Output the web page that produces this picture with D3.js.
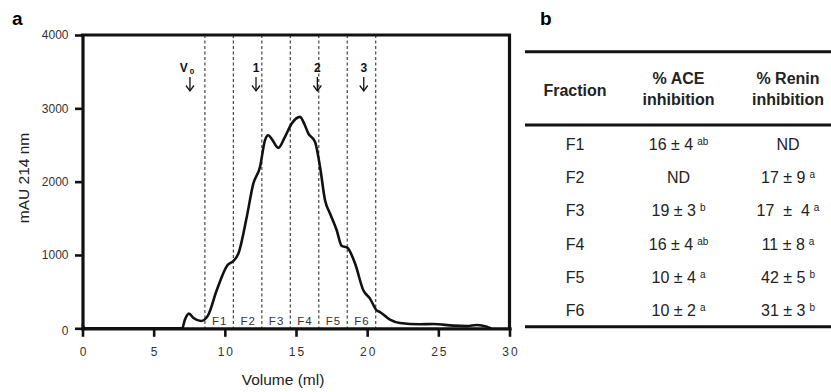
<!DOCTYPE html>
<html>
<head>
<meta charset="utf-8">
<script src="https://cdn.jsdelivr.net/npm/d3@7"></script>
<style>
  html, body { margin: 0; padding: 0; background: #fff; }
  svg { display: block; font-family: "Liberation Sans", Arial, Helvetica, sans-serif; }
</style>
</head>
<body>
<svg id="chart" width="831" height="392"></svg>
<script>
// ---- Data ----
const volumes = [0, 0.15, 7.0, 7.2, 7.48, 7.8, 8.33, 8.8, 9.43, 10.18, 10.6, 10.95, 11.54, 12.0, 12.47, 12.82, 13.06, 13.3, 13.76, 14.2, 14.7, 15.28, 15.6, 15.87, 16.34, 16.69, 17.04, 17.39, 17.86, 18.21, 18.6, 19.15, 19.73, 20.2, 20.67, 20.9, 21.6, 22.3, 23.7, 24.65, 26.06, 27.0, 27.7, 28.4, 28.7];
const absorbance = [50, 0, 0, 120, 200, 140, 100, 170, 518, 860, 918, 1019, 1518, 1973, 2200, 2564, 2633, 2580, 2460, 2600, 2792, 2883, 2780, 2656, 2542, 2200, 1746, 1565, 1337, 1123, 1100, 883, 518, 405, 245, 222, 118, 72, 55, 59, 36, 30, 45, 23, 0];
const xTicks = [0, 5, 10, 15, 20, 25, 30];
const yTicks = [0, 1000, 2000, 3000, 4000];
const fractionBounds = [8.6, 10.6, 12.6, 14.6, 16.6, 18.6, 20.6];
const fractionLabels = ["F1", "F2", "F3", "F4", "F5", "F6"];
const markerLabels = ["V", "1", "2", "3"];
const markerSubs = ["0", "", "", ""];
const markerVolumes = [7.55, 12.19, 16.5, 19.76];

const tableHeaders = [["Fraction"], ["% ACE", "inhibition"], ["% Renin", "inhibition"]];
const tableFractions = ["F1", "F2", "F3", "F4", "F5", "F6"];
const aceValues = ["16 ± 4", "ND", "19 ± 3", "16 ± 4", "10 ± 4", "10 ± 2"];
const aceSup = ["ab", "", "b", "ab", "a", "a"];
const reninValues = ["ND", "17 ± 9", "17  ±  4", "11 ± 8", "42 ± 5", "31 ± 3"];
const reninSup = ["", "a", "a", "a", "b", "b"];

// ---- Chart ----
const svg = d3.select("#chart");
const x = d3.scaleLinear().domain([0, 30]).range([82.5, 509.5]);
const y = d3.scaleLinear().domain([0, 4000]).range([328.3, 35]);

// panel letters
svg.append("text").attr("x", 12).attr("y", 25).attr("font-size", 19).attr("font-weight", "bold").text("a");
svg.append("text").attr("x", 540).attr("y", 25).attr("font-size", 19).attr("font-weight", "bold").text("b");

// dashed fraction lines
svg.append("g").selectAll("line").data(fractionBounds).join("line")
  .attr("x1", d => x(d)).attr("x2", d => x(d))
  .attr("y1", y(4000)).attr("y2", y(0))
  .style("stroke", "#444").style("stroke-width", "1.2px").style("stroke-dasharray", "3,2.5");

// fraction labels
svg.append("g").selectAll("text").data(fractionLabels).join("text")
  .attr("x", (d, i) => (x(fractionBounds[i]) + x(fractionBounds[i + 1])) / 2 + 0.5)
  .attr("y", 325)
  .attr("text-anchor", "middle")
  .attr("font-size", 11.5).attr("letter-spacing", "1px").attr("fill", "#333")
  .text(d => d);

// curve
const line = d3.line().x((d, i) => x(volumes[i])).y(d => y(d)).curve(d3.curveMonotoneX);
svg.append("path").datum(absorbance)
  .attr("d", line).style("fill", "none").style("stroke", "#111").style("stroke-width", "2.6px")
  .style("stroke-linejoin", "round");

// top & right frame
svg.append("path")
  .attr("d", `M${x(0)},${y(4000)}H${x(30)}V${y(0)}`)
  .style("fill", "none").style("stroke", "#111").style("stroke-width", "3.2px")
  .style("stroke-linecap", "square");

// axes
const yAxis = svg.append("g").attr("transform", `translate(${x(0)},0)`)
  .call(d3.axisLeft(y).tickValues(yTicks).tickSize(7.5).tickSizeOuter(0).tickPadding(6.5).tickFormat(d3.format("d")));
const xAxis = svg.append("g").attr("transform", `translate(0,${y(0)})`)
  .call(d3.axisBottom(x).tickValues(xTicks).tickSize(8.5).tickSizeOuter(0).tickPadding(11).tickFormat(d3.format("d")));
[yAxis, xAxis].forEach(g => {
  g.select(".domain").style("stroke", "#111").style("stroke-width", "3.2px").style("stroke-linecap", "square");
  g.selectAll(".tick line").style("stroke", "#111").style("stroke-width", "2.6px");
  g.selectAll(".tick text").style("fill", "#333").style("font-size", "12px")
    .style("font-family", "'Liberation Sans', Arial, sans-serif");
});
xAxis.selectAll(".tick text").style("letter-spacing", "2px").attr("dx", "1px");
yAxis.selectAll(".tick text").filter(d => d === 0).attr("dy", "0.5em");

// axis titles
svg.append("text").attr("x", 283).attr("y", 385).attr("text-anchor", "middle")
  .attr("font-size", 15.5).attr("fill", "#222").text("Volume (ml)");
svg.append("text").attr("transform", "translate(29,178) rotate(-90)").attr("text-anchor", "middle")
  .attr("font-size", 15.5).attr("fill", "#222").text("mAU 214 nm");

// markers
const mk = svg.append("g").selectAll("g").data(markerVolumes).join("g")
  .attr("transform", d => `translate(${x(d)},0)`);
mk.append("text").attr("x", (d, i) => markerSubs[i] ? -3 : 0).attr("y", 71.7)
  .attr("text-anchor", "middle").attr("font-size", 12).attr("font-weight", "bold").attr("fill", "#111")
  .text((d, i) => markerLabels[i])
  .append("tspan").attr("font-size", 8).attr("dx", 2).attr("dy", 2)
  .text((d, i) => markerSubs[i]);
mk.append("line").attr("x1", 0).attr("x2", 0).attr("y1", 77).attr("y2", 90.5)
  .style("stroke", "#111").style("stroke-width", "1.3px");
mk.append("path").attr("d", "M-4,85.5L0,90.8L4,85.5").style("fill", "none")
  .style("stroke", "#111").style("stroke-width", "1.3px");

// ---- Table ----
const colX = [575, 678.5, 788];
const rowY0 = 149.7, rowStep = 33.33;
const tbl = svg.append("g");
[51.7, 125, 326.7].forEach(yy => {
  tbl.append("line").attr("x1", 525).attr("x2", 831).attr("y1", yy).attr("y2", yy)
    .style("stroke", "#111").style("stroke-width", "3px");
});
tableHeaders.forEach((lines, c) => {
  const t = tbl.append("text").attr("text-anchor", "middle").attr("font-size", 16)
    .attr("font-weight", "bold").attr("fill", "#222");
  if (lines.length === 1) {
    t.attr("x", colX[c]).attr("y", 95.7).text(lines[0]);
  } else {
    lines.forEach((l, k) => t.append("tspan").attr("x", colX[c]).attr("y", k === 0 ? 84 : 105).text(l));
  }
});
function cell(col, row, main, sup) {
  const t = tbl.append("text").attr("x", colX[col]).attr("y", rowY0 + row * rowStep)
    .attr("text-anchor", "middle").attr("font-size", 16).attr("fill", "#222")
    .style("white-space", "pre");
  t.append("tspan").text(main);
  if (sup) t.append("tspan").attr("font-size", 10).attr("dx", 4).attr("dy", -5).text(sup);
}
tableFractions.forEach((f, i) => {
  cell(0, i, f, "");
  cell(1, i, aceValues[i], aceSup[i]);
  cell(2, i, reninValues[i], reninSup[i]);
});
</script>
</body>
</html>
